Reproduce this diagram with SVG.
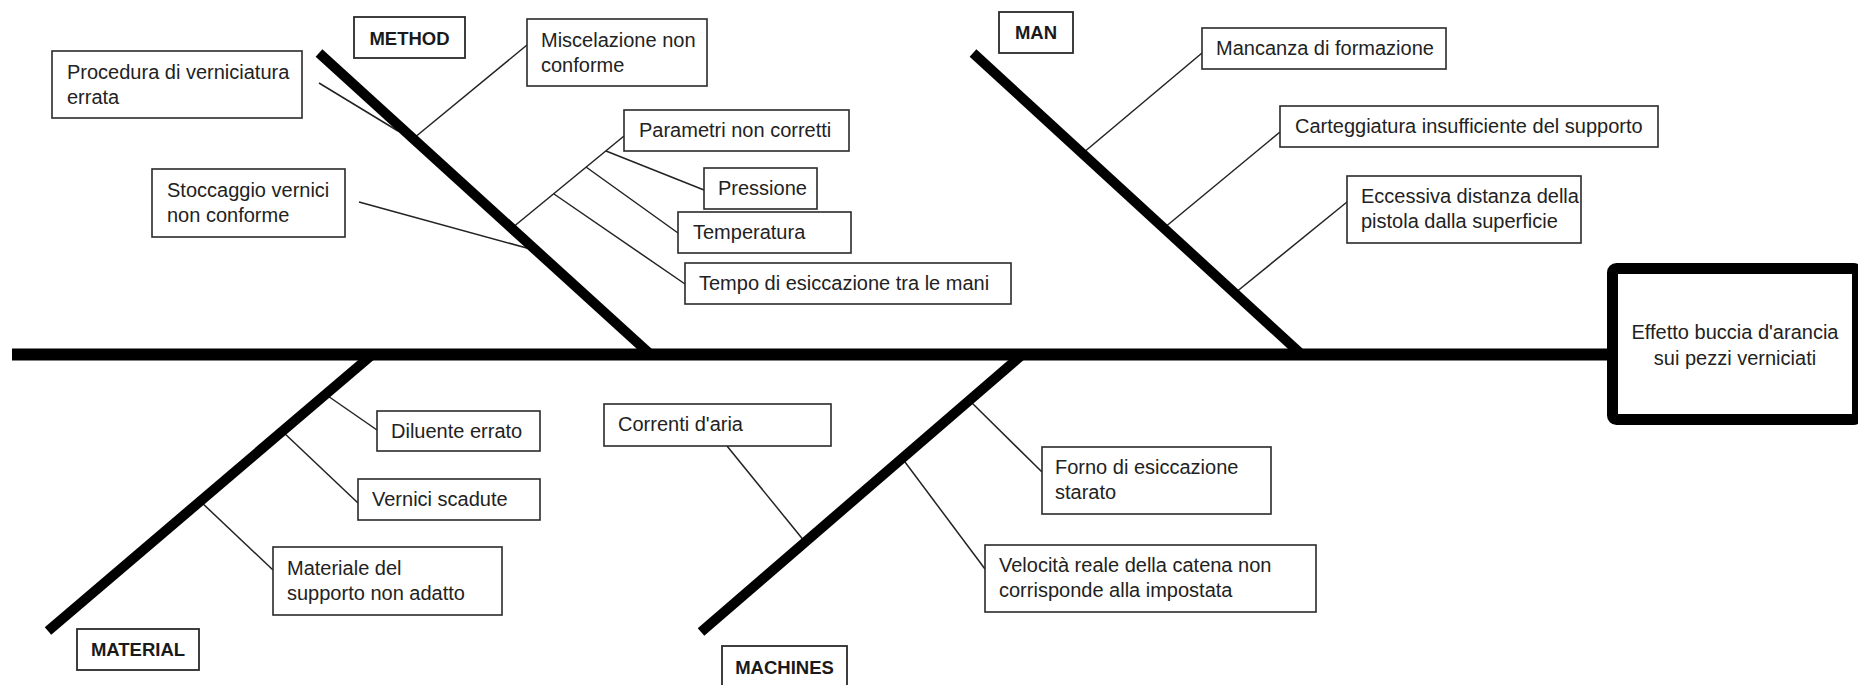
<svg xmlns="http://www.w3.org/2000/svg" width="1858" height="685" viewBox="0 0 1858 685">
<style>
.bg{fill:#ffffff}
.box rect{fill:#ffffff;stroke:#2a2a2a;stroke-width:1.6}
.box text{font-family:"Liberation Sans",Arial,sans-serif;font-size:20px;fill:#222222}
.cat rect{fill:#ffffff;stroke:#2a2a2a;stroke-width:1.8}
.cat text{font-family:"Liberation Sans",Arial,sans-serif;font-size:18.5px;font-weight:bold;fill:#1a1a1a;text-anchor:middle}
.thin{stroke:#222222;stroke-width:1.5;fill:none}
.bone{stroke:#000000;stroke-width:10;fill:none;stroke-linecap:butt}
.spine{stroke:#000000;stroke-width:12;fill:none}
#effect rect{fill:#ffffff;stroke:#000000;stroke-width:11}
#effect text{font-family:"Liberation Sans",Arial,sans-serif;font-size:20px;fill:#222222;text-anchor:middle}
</style>
<rect class="bg" x="0" y="0" width="1858" height="685"/>
<g id="connectors">
  <!-- method -->
  <line class="thin" x1="319" y1="83" x2="398" y2="131"/>
  <line class="thin" x1="527" y1="45" x2="414" y2="138"/>
  <line class="thin" x1="359" y1="202" x2="534" y2="250"/>
  <line class="thin" x1="624" y1="136" x2="512" y2="228"/>
  <line class="thin" x1="606" y1="151" x2="704" y2="190"/>
  <line class="thin" x1="586" y1="167" x2="678" y2="233"/>
  <line class="thin" x1="554" y1="194" x2="685" y2="284"/>
  <!-- man -->
  <line class="thin" x1="1202" y1="53" x2="1083" y2="153"/>
  <line class="thin" x1="1280" y1="132" x2="1164" y2="228"/>
  <line class="thin" x1="1347" y1="202" x2="1235" y2="293"/>
  <!-- material -->
  <line class="thin" x1="377" y1="430" x2="325" y2="394"/>
  <line class="thin" x1="358" y1="503" x2="282" y2="431"/>
  <line class="thin" x1="273" y1="570" x2="200" y2="501"/>
  <!-- machines -->
  <line class="thin" x1="727" y1="446" x2="805" y2="542"/>
  <line class="thin" x1="1042" y1="472" x2="969" y2="400"/>
  <line class="thin" x1="985" y1="569" x2="902" y2="458"/>
  <!-- bones -->
  <line class="spine" x1="12" y1="354.5" x2="1610" y2="354.5"/>
  <line class="bone" x1="319" y1="53" x2="650" y2="354"/>
  <line class="bone" x1="973" y1="53" x2="1301" y2="354"/>
  <line class="bone" x1="373" y1="354" x2="48" y2="631"/>
  <line class="bone" x1="1023" y1="354" x2="701" y2="632"/>
</g>
<g id="method" class="cat"><rect x="354" y="17" width="111" height="41"/><text x="409.5" y="45">METHOD</text></g>
<g id="man" class="cat"><rect x="999" y="12" width="74" height="41"/><text x="1036" y="39">MAN</text></g>
<g id="material" class="cat"><rect x="77" y="629" width="122" height="41"/><text x="138" y="656">MATERIAL</text></g>
<g id="machines" class="cat"><rect x="722" y="646" width="125" height="45"/><text x="784.5" y="674">MACHINES</text></g>

<g id="procedura" class="box"><rect x="52" y="51" width="250" height="67"/><text x="67" y="79">Procedura di verniciatura</text><text x="67" y="103.5">errata</text></g>
<g id="miscelazione" class="box"><rect x="527" y="19" width="180" height="67"/><text x="541" y="47">Miscelazione non</text><text x="541" y="72">conforme</text></g>
<g id="stoccaggio" class="box"><rect x="152" y="169" width="193" height="68"/><text x="167" y="197">Stoccaggio vernici</text><text x="167" y="222">non conforme</text></g>
<g id="parametri" class="box"><rect x="624" y="110" width="225" height="41"/><text x="639" y="137">Parametri non corretti</text></g>
<g id="pressione" class="box"><rect x="704" y="168" width="113" height="41"/><text x="718" y="195">Pressione</text></g>
<g id="temperatura" class="box"><rect x="678" y="212" width="173" height="41"/><text x="693" y="239">Temperatura</text></g>
<g id="tempo" class="box"><rect x="685" y="263" width="326" height="41"/><text x="699" y="290">Tempo di esiccazione tra le mani</text></g>

<g id="mancanza" class="box"><rect x="1202" y="28" width="244" height="41"/><text x="1216" y="55">Mancanza di formazione</text></g>
<g id="carteggiatura" class="box"><rect x="1280" y="106" width="378" height="41"/><text x="1295" y="133">Carteggiatura insufficiente del supporto</text></g>
<g id="eccessiva" class="box"><rect x="1347" y="176" width="234" height="67"/><text x="1361" y="203">Eccessiva distanza della</text><text x="1361" y="228">pistola dalla superficie</text></g>

<g id="diluente" class="box"><rect x="377" y="411" width="163" height="40"/><text x="391" y="438">Diluente errato</text></g>
<g id="vernici" class="box"><rect x="358" y="479" width="182" height="41"/><text x="372" y="506">Vernici scadute</text></g>
<g id="materiale" class="box"><rect x="273" y="547" width="229" height="68"/><text x="287" y="575">Materiale del</text><text x="287" y="599.5">supporto non adatto</text></g>

<g id="correnti" class="box"><rect x="604" y="404" width="227" height="42"/><text x="618" y="431">Correnti d'aria</text></g>
<g id="forno" class="box"><rect x="1042" y="447" width="229" height="67"/><text x="1055" y="474">Forno di esiccazione</text><text x="1055" y="499">starato</text></g>
<g id="velocita" class="box"><rect x="985" y="545" width="331" height="67"/><text x="999" y="572">Velocità reale della catena non</text><text x="999" y="597">corrisponde alla impostata</text></g>

<g id="effect"><rect x="1612.5" y="268.5" width="245" height="151" rx="4"/><text x="1735" y="339">Effetto buccia d'arancia</text><text x="1735" y="365">sui pezzi verniciati</text></g>
</svg>
